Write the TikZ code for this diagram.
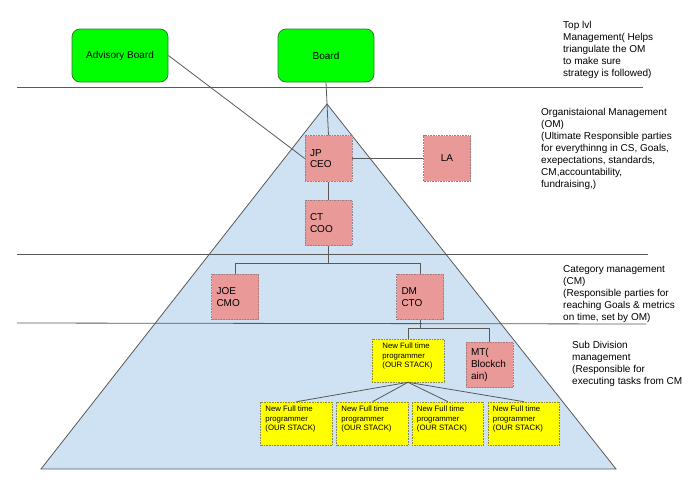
\documentclass[tikz,border=0pt]{standalone}
\usepackage{fontspec}
\setmainfont{Liberation Sans}
\definecolor{gboard}{HTML}{00FF00}
\definecolor{gedge}{HTML}{2E7D2E}
\definecolor{pinkfill}{HTML}{EA9999}
\definecolor{pinkedge}{HTML}{A07C7C}
\definecolor{yelfill}{HTML}{FFFF00}
\definecolor{yeledge}{HTML}{8A8A40}
\definecolor{tri}{HTML}{CFE2F3}
\definecolor{ink}{HTML}{595959}
\begin{document}
\begin{tikzpicture}[x=1pt,y=-1pt,
  wire/.style={draw=ink, line width=0.8pt},
  boardbox/.style={draw=gedge, line width=0.8pt, fill=gboard, rounded corners=8pt,
    minimum width=96pt, minimum height=53pt, inner sep=0pt,
    font=\fontsize{10}{12}\selectfont},
  rolebox/.style={draw=pinkedge, densely dotted, line width=0.6pt, fill=pinkfill,
    text width=37pt, inner xsep=5pt, inner ysep=0pt, minimum height=45.5pt,
    align=left, font=\fontsize{10}{11.7}\selectfont},
  devbox/.style={draw=yeledge, densely dotted, line width=0.6pt, fill=yelfill,
    minimum width=71.5pt, minimum height=43pt, inner sep=0pt},
  devtext/.style={anchor=north west, inner sep=0pt, align=left,
    font=\fontsize{7.8}{9.5}\selectfont},
  note/.style={anchor=north west, inner sep=0pt, align=left,
    font=\fontsize{10}{12}\selectfont}
]
\useasboundingbox (0,0) rectangle (698,482);

% pyramid of the organisation
\path[fill=tri, draw=ink, line width=0.8pt] (327,104) -- (616,469) -- (41,469) -- cycle;

% level separators
\coordinate (sepA1) at (17,87);   \coordinate (sepA2) at (643,87);
\coordinate (sepB1) at (17,254);  \coordinate (sepB2) at (648,254);
\coordinate (sepC1) at (17,323);  \coordinate (sepC2) at (646,324);
\draw[wire] (sepA1) -- (sepA2);
\draw[wire] (sepB1) -- (sepB2);
\draw[wire] (sepC1) -- (sepC2);

% top level boards
\node[boardbox] (adv) at (120,55.5) {Advisory Board};
\node[boardbox] (board) at (326,55.5) {Board};

% organisational management
\node[rolebox] (jp) at (328.5,158.5) {JP\\CEO};
\node[rolebox, align=center] (la) at (447,158.5) {LA};
\node[rolebox] (ct) at (328.5,223) {CT\\COO};

% category management
\node[rolebox] (joe) at (235,297) {JOE\\CMO};
\node[rolebox] (dm) at (420,297) {DM\\CTO};

% sub division
\node[devbox, minimum width=72pt] (nft) at (408,360.5) {};
\node[devtext] (nft-t) at ([shift={(10.5,4.2)}]nft.north west) {New Full time\\programmer\\(OUR STACK)};
\node[rolebox] (mt) at (489.5,365) {MT(\\Blockch\\ain)};

\node[devbox] (p1) at (296.5,423.5) {};
\node[devbox] (p2) at (372.5,423.5) {};
\node[devbox] (p3) at (448,423.5) {};
\node[devbox] (p4) at (524,423.5) {};
\foreach \b in {p1,p2,p3,p4}
  \node[devtext] (\b-t) at ([shift={(4.8,4)}]\b.north west) {New Full time\\programmer\\(OUR STACK)};

% reporting lines
\draw[wire] (adv.east) -- (jp.west);
\draw[wire] (board.south) -- (jp.north);
\draw[wire] (jp.east) -- (la.west);
\draw[wire] (jp.south) -- (ct.north);
\draw[wire] (ct.south) -- ++(0,17) -| (joe.north);
\draw[wire] (ct.south) -- ++(0,17) -| (dm.north);
\draw[wire] (dm.south) -- ++(0,8) -| (nft.north);
\draw[wire] (dm.south) -- ++(0,8) -| (mt.north);
\foreach \b in {p1,p2,p3,p4}
  \draw[wire] (nft.south) -- (\b.north);

% level descriptions
\node[note] (t-top) at (563,21.5) {Top lvl\\Management( Helps\\triangulate the OM\\to make sure\\strategy is followed)};
\node[note] (t-om) at (541,108) {Organistaional Management\\(OM)\\(Ultimate Responsible parties\\for everythinng in CS, Goals,\\exepectations, standards,\\CM,accountability,\\fundraising,)};
\node[note] (t-cm) at (563,265.5) {Category management\\(CM)\\(Responsible parties for\\reaching Goals \& metrics\\on time, set by OM)};
\node[note] (t-sub) at (572,341.5) {Sub Division\\management\\(Responsible for\\executing tasks from CM};
\end{tikzpicture}
\end{document}
